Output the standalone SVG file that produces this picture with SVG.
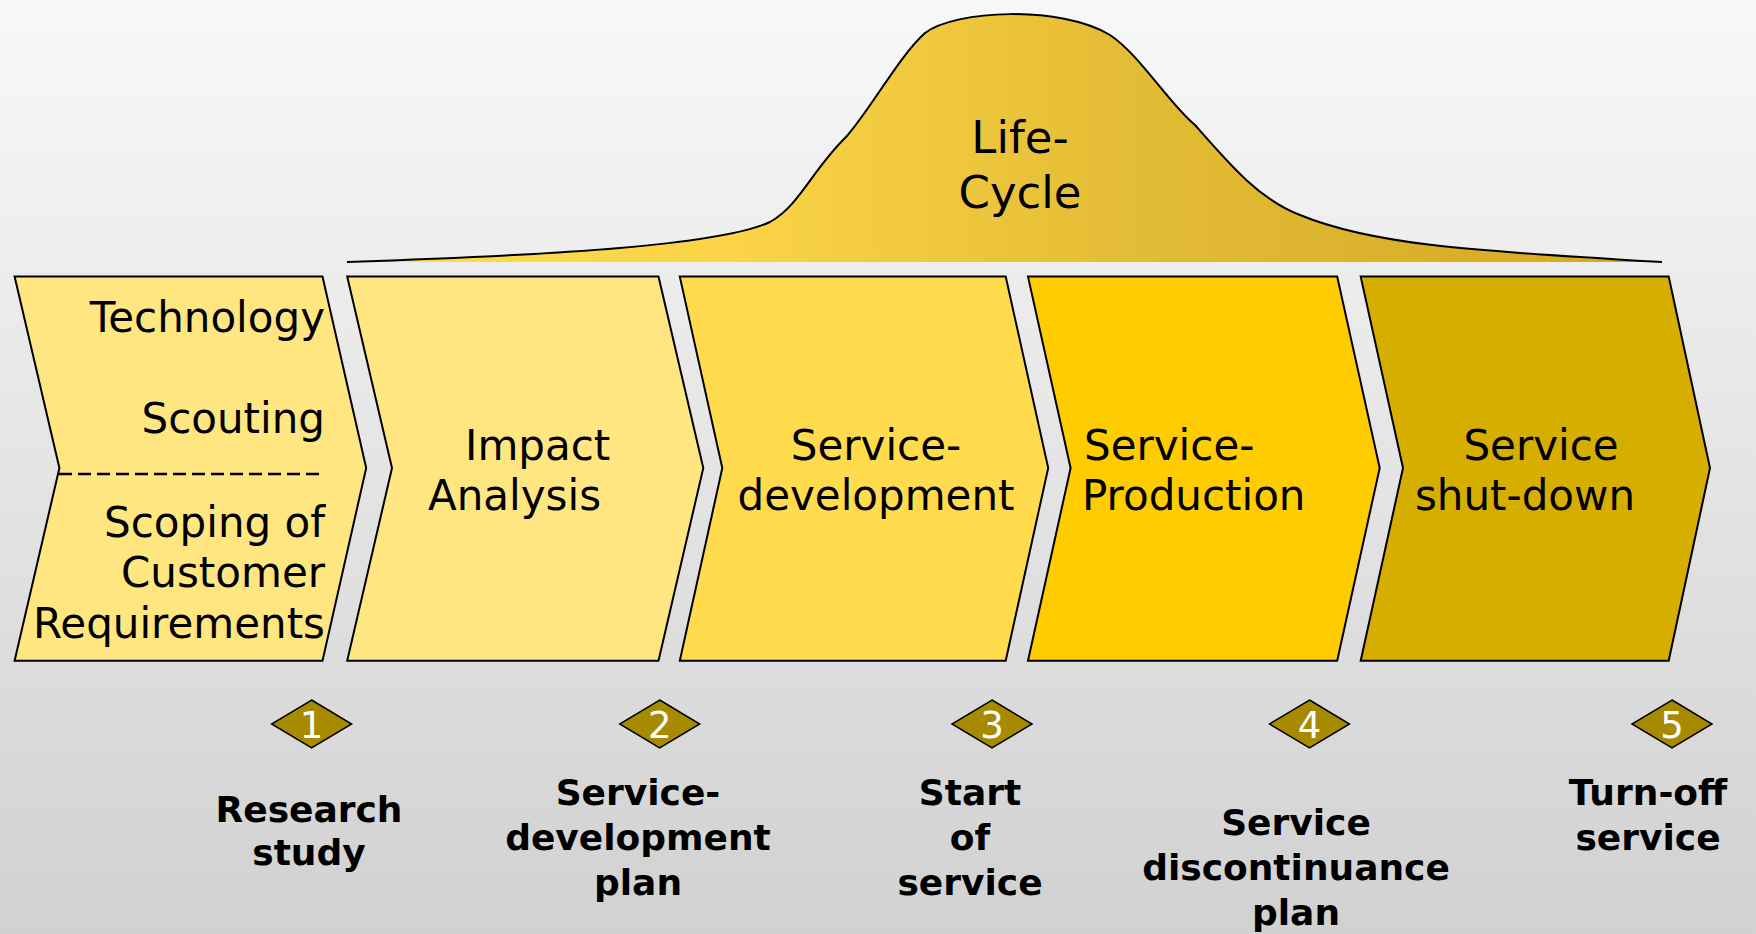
<svg xmlns="http://www.w3.org/2000/svg" width="1756" height="934" viewBox="0 0 1756 934">
<defs>
<linearGradient id="bg" x1="0" y1="0" x2="0" y2="1">
<stop offset="0" stop-color="#F8F8F8"/>
<stop offset="1" stop-color="#D1D1D1"/>
</linearGradient>
<linearGradient id="lc" gradientUnits="userSpaceOnUse" x1="347" y1="0" x2="1662" y2="0">
<stop offset="0" stop-color="#FFDC4C"/>
<stop offset="0.3" stop-color="#FAD446"/>
<stop offset="0.6" stop-color="#E3BC35"/>
<stop offset="1" stop-color="#D2A820"/>
</linearGradient>
</defs>
<style>
.chev{stroke:#000;stroke-width:2;stroke-linejoin:miter}
.lbl{font-family:"DejaVu Sans",Verdana,sans-serif;font-size:42px;fill:#000}
.ms{font-family:"DejaVu Sans",Verdana,sans-serif;font-size:36px;font-weight:bold;fill:#000;text-anchor:middle}
.dia{fill:#A88A00;stroke:#000;stroke-width:1.5}
.num{font-family:"DejaVu Sans",Verdana,sans-serif;font-size:37px;fill:#fff;text-anchor:middle}
</style>
<rect width="1756" height="934" fill="url(#bg)"/>

<g id="lifecycle">
<path d="M347,262 C560,255 720,245 770,222 C800,205 812,170 846,137 C870,110 900,55 925,33 C955,10 1060,5 1110,35 C1140,55 1170,105 1195,125 C1230,165 1260,200 1300,215 C1380,248 1500,252 1662,262 Z" fill="url(#lc)"/>
<path d="M347,262 C560,255 720,245 770,222 C800,205 812,170 846,137 C870,110 900,55 925,33 C955,10 1060,5 1110,35 C1140,55 1170,105 1195,125 C1230,165 1260,200 1300,215 C1380,248 1500,252 1662,262" fill="none" stroke="#000" stroke-width="2"/>
<text class="lbl" x="1020" y="153" text-anchor="middle" style="font-size:45px">Life-</text>
<text class="lbl" x="1020" y="208" text-anchor="middle" style="font-size:45px">Cycle</text>
</g>

<g id="phase1">
<polygon class="chev" fill="#FFE680" points="14.6,276.6 322.5,276.6 366.2,468 322.5,660.7 14.6,660.7 59.4,468"/>
<line x1="59" y1="474" x2="325" y2="474" stroke="#000" stroke-width="2.5" stroke-dasharray="13,6"/>
<text class="lbl" x="325" y="332" text-anchor="end">Technology</text>
<text class="lbl" x="325" y="433" text-anchor="end">Scouting</text>
<text class="lbl" x="325" y="537" text-anchor="end">Scoping of</text>
<text class="lbl" x="325" y="587" text-anchor="end">Customer</text>
<text class="lbl" x="325" y="638" text-anchor="end">Requirements</text>
</g>

<g id="phase2">
<polygon class="chev" fill="#FFE680" points="347.2,276.6 658.5,276.6 703.3,468 658.5,660.7 347.2,660.7 392,468"/>
<text class="lbl" x="465" y="460">Impact</text>
<text class="lbl" x="428" y="510">Analysis</text>
</g>

<g id="phase3">
<polygon class="chev" fill="#FFDB4D" points="679.8,276.6 1005.7,276.6 1048.2,468 1005.7,660.7 679.8,660.7 722.3,468"/>
<text class="lbl" x="876" y="460" text-anchor="middle">Service-</text>
<text class="lbl" x="876" y="510" text-anchor="middle">development</text>
</g>

<g id="phase4">
<polygon class="chev" fill="#FFCC00" points="1028,276.6 1337.2,276.6 1379.7,468 1337.2,660.7 1028,660.7 1070.6,468"/>
<text class="lbl" x="1084" y="460">Service-</text>
<text class="lbl" x="1082" y="510">Production</text>
</g>

<g id="phase5">
<polygon class="chev" fill="#D6AE00" points="1360.7,276.6 1668.7,276.6 1710,468 1668.7,660.7 1360.7,660.7 1403,468"/>
<text class="lbl" x="1541" y="460" text-anchor="middle">Service</text>
<text class="lbl" x="1525" y="510" text-anchor="middle">shut-down</text>
</g>

<g id="m1">
<polygon class="dia" points="311.6,700 351.6,724 311.6,748 271.6,724"/>
<text class="num" x="311.6" y="738">1</text>
<text class="ms" x="309" y="822">Research</text>
<text class="ms" x="309" y="865">study</text>
</g>
<g id="m2">
<polygon class="dia" points="659.7,700 699.7,724 659.7,748 619.7,724"/>
<text class="num" x="659.7" y="738">2</text>
<text class="ms" x="638" y="805">Service-</text>
<text class="ms" x="638" y="850">development</text>
<text class="ms" x="638" y="895">plan</text>
</g>
<g id="m3">
<polygon class="dia" points="992,700 1032,724 992,748 952,724"/>
<text class="num" x="992" y="738">3</text>
<text class="ms" x="970" y="805">Start</text>
<text class="ms" x="970" y="850">of</text>
<text class="ms" x="970" y="895">service</text>
</g>
<g id="m4">
<polygon class="dia" points="1309.5,700 1349.5,724 1309.5,748 1269.5,724"/>
<text class="num" x="1309.5" y="738">4</text>
<text class="ms" x="1296" y="835">Service</text>
<text class="ms" x="1296" y="880">discontinuance</text>
<text class="ms" x="1296" y="925">plan</text>
</g>
<g id="m5">
<polygon class="dia" points="1672,700 1712,724 1672,748 1632,724"/>
<text class="num" x="1672" y="738">5</text>
<text class="ms" x="1648" y="805">Turn-off</text>
<text class="ms" x="1648" y="850">service</text>
</g>
</svg>
